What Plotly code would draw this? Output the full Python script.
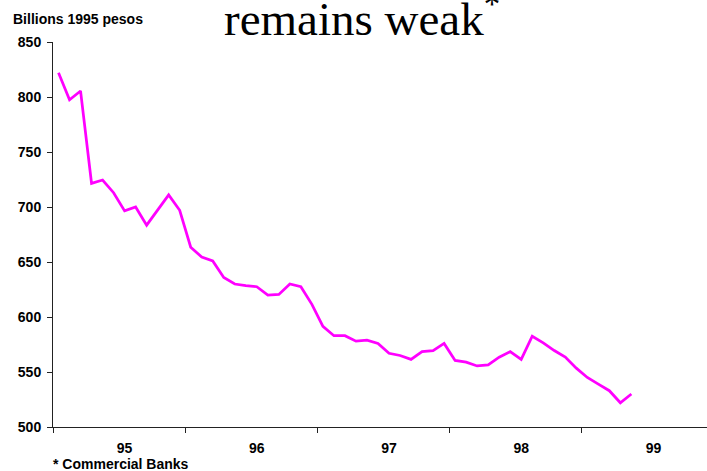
import plotly.graph_objects as go

# Monthly values, Jan 1995 .. May 1999 (billions of 1995 pesos)
values = [
    822, 797.5, 805.5, 721.5, 724.5, 713, 696.5, 700, 683.5, 697, 711, 697,
    663.5, 654.5, 651, 636, 630, 628.5, 627.5, 620, 620.5, 630, 627.5, 611.5,
    591.5, 583, 583, 578, 579, 576, 567, 565, 561.5, 568.5, 569.5, 576,
    560.5, 559, 555.5, 556.5, 563.5, 568.5, 561.5, 582.5, 576.5, 569.5, 563.5, 553.5,
    545, 539, 533, 522, 530,
]
month_index = list(range(len(values)))
year_labels = ["95", "96", "97", "98", "99"]
year_label_pos = [6, 18, 30, 42, 54]
year_bounds = [-0.5, 11.5, 23.5, 35.5, 47.5]
y_ticks = [500, 550, 600, 650, 700, 750, 800, 850]

W, H = 707, 471
L, T, B, R = 53, 42, 44, 0
plot_w = W - L - R
px_per_month = 661 / 60.0
x_end = -0.5 + plot_w / px_per_month

fig = go.Figure()
fig.add_trace(go.Scatter(
    x=month_index, y=values, mode="lines",
    line=dict(color="#FF00FF", width=2.75),
    hoverinfo="skip", showlegend=False,
))

tickfont = dict(family="Liberation Sans, Arial", size=14, color="black")

fig.update_layout(
    width=W, height=H,
    margin=dict(l=L, r=R, t=T, b=B, pad=0),
    paper_bgcolor="white", plot_bgcolor="white",
    xaxis=dict(
        range=[-0.5, x_end],
        tickmode="array", tickvals=year_label_pos, ticktext=[f"<b>{t}</b>" for t in year_labels],
        ticks="outside", ticklen=8, tickcolor="rgba(0,0,0,0)",
        tickfont=tickfont,
        showgrid=False, zeroline=False,
        showline=True, linecolor="#222", linewidth=1,
        minor=dict(tickmode="array", tickvals=year_bounds, ticks="outside",
                   ticklen=5, tickcolor="#222", tickwidth=1, showgrid=False),
    ),
    yaxis=dict(
        range=[500, 850],
        tickmode="array", tickvals=y_ticks, ticktext=[f"<b>{v}</b>" for v in y_ticks],
        ticks="outside", ticklen=5, tickcolor="#222", tickwidth=1,
        ticklabelstandoff=3,
        tickfont=tickfont,
        showgrid=False, zeroline=False,
        showline=True, linecolor="#222", linewidth=1,
    ),
    annotations=[
        dict(text="remains weak<sup>*</sup>", xref="paper", yref="paper",
             x=(362 - L) / plot_w, y=1 + (T - 16) / 385.0,
             xanchor="center", yanchor="middle", showarrow=False,
             font=dict(family="Liberation Serif, Times New Roman", size=47, color="black")),
        dict(text="<b>Billions 1995 pesos</b>", xref="paper", yref="paper",
             x=(11 - L) / plot_w, y=1 + (T - 19) / 385.0,
             xanchor="left", yanchor="middle", showarrow=False,
             font=dict(family="Liberation Sans, Arial", size=14, color="black")),
        dict(text="<b>* Commercial Banks</b>", xref="paper", yref="paper",
             x=(51 - L) / plot_w, y=-(464 - (H - B)) / 385.0,
             xanchor="left", yanchor="middle", showarrow=False,
             font=dict(family="Liberation Sans, Arial", size=14, color="black")),
    ],
)

fig.write_html("out.html")
